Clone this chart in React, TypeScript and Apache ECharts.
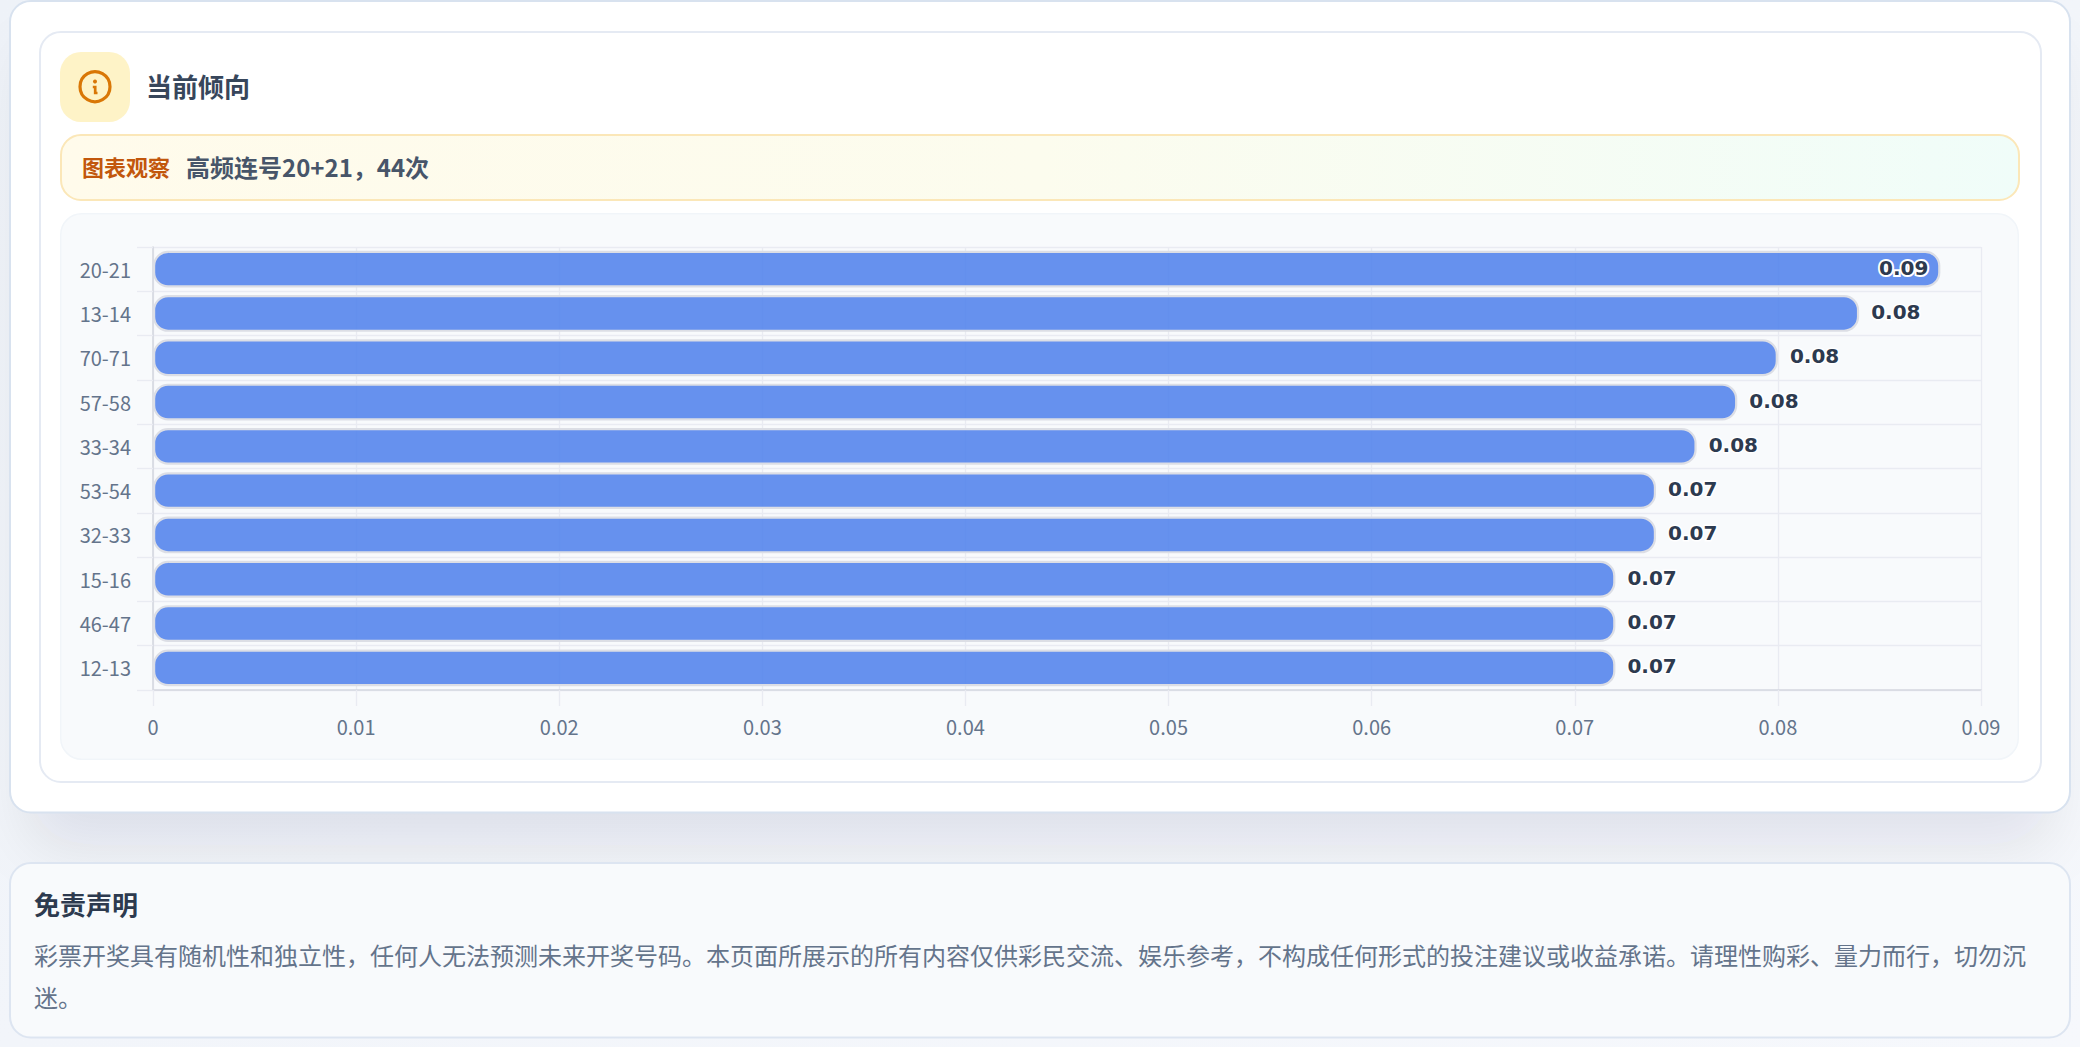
import React, { useEffect, useRef } from "react";
import * as echarts from "echarts";

const categories = ["20-21", "13-14", "70-71", "57-58", "33-34", "53-54", "32-33", "15-16", "46-47", "12-13"];
const values = [0.088, 0.084, 0.08, 0.078, 0.076, 0.074, 0.074, 0.072, 0.072, 0.072];
const heading = "当前倾向";
const noteLabel = "图表观察";
const noteText = "高频连号20+21，44次";
const disclaimerTitle = "免责声明";
const disclaimerLines = [
  "彩票开奖具有随机性和独立性，任何人无法预测未来开奖号码。本页面所展示的所有内容仅供彩民交流、娱乐参考，不构成任何形式的投注建议或收益承诺。请理性购彩、量力而行，切勿沉",
  "迷。",
];

const CJK = '"Noto Sans CJK SC", "Noto Sans", sans-serif';

function box(x: number, y: number, w: number, h: number, r: number, fill: any, stroke: string, lw: number, extra: any = {}) {
  return {
    type: "rect",
    z: -5,
    shape: { x: x + lw / 2, y: y + lw / 2, width: w - lw, height: h - lw, r },
    style: { fill, stroke, lineWidth: lw, ...extra },
  };
}

function label(x: number, y: number, text: string, size: number, color: string, weight: string | number) {
  return {
    type: "text",
    z: -4,
    x,
    y,
    style: { text, fill: color, font: `${weight} ${size}px ${CJK}`, textAlign: "left", textVerticalAlign: "middle" },
  };
}

export default function App() {
  const ref = useRef<HTMLDivElement>(null);
  useEffect(() => {
    document.body.style.margin = "0";
    const chart = echarts.init(ref.current!, undefined, { renderer: "svg" });
    chart.setOption({
      animation: false,
      backgroundColor: "transparent",
      graphic: [
        {
          type: "rect",
          z: -6,
          shape: { x: 0, y: 0, width: 2080, height: 1047 },
          style: {
            fill: new echarts.graphic.LinearGradient(0, 0, 1, 1, [
              { offset: 0, color: "#eef2f8" },
              { offset: 1, color: "#f6f8fc" },
            ]),
          },
        },
        box(30, 20, 2020, 793, 21, "#ffffff", "#ffffff", 0, {
          shadowBlur: 60,
          shadowOffsetY: 32,
          shadowColor: "rgba(15,23,42,0.09)",
        }),
        box(9, 0, 2062, 813.5, 21, "#ffffff", "#d8e2ef", 2),
        box(39, 31, 2003, 752, 21, "#ffffff", "#e5eaf3", 2),
        box(60, 52, 70, 70, 21, "#fef3c7", "#fef3c7", 0),
        {
          type: "circle",
          z: -4,
          shape: { cx: 95, cy: 86.7, r: 15 },
          style: { fill: "none", stroke: "#d97706", lineWidth: 3.2 },
        },
        { type: "circle", z: -4, shape: { cx: 95, cy: 81.5, r: 2 }, style: { fill: "#d97706" } },
        {
          type: "polyline",
          z: -4,
          shape: { points: [[92.8, 87], [95.2, 87], [95.2, 93], [97.5, 93]] },
          style: { fill: "none", stroke: "#d97706", lineWidth: 2.7 },
        },
        label(146, 85, heading, 26, "#37465b", "bold"),
        box(60, 134, 1960, 67, 20, new echarts.graphic.LinearGradient(0, 0, 1, 0, [
          { offset: 0, color: "#fffbeb" },
          { offset: 0.5, color: "#fcfcee" },
          { offset: 1, color: "#f0fdf9" },
        ]), "#fbe7b8", 2),
        label(82, 166, noteLabel, 22, "#c2570c", "bold"),
        label(186, 166, noteText, 24, "#475569", "bold"),
        box(60, 213, 1959, 547, 21, "#f8fafc", "#f1f5f9", 1.5),
        box(9, 862, 2062, 176.5, 21, "#f8fafc", "#dde5f1", 2),
        label(34, 903.5, disclaimerTitle, 26, "#2d3a4f", "bold"),
        label(34, 954.7, disclaimerLines[0], 24, "#64748b", "normal"),
        label(34, 996, disclaimerLines[1], 24, "#64748b", "normal"),
      ],
      grid: { left: 153, top: 247, width: 1828, height: 443, containLabel: false },
      xAxis: {
        type: "value",
        min: 0,
        max: 0.09,
        interval: 0.01,
        axisLine: { show: true, onZero: false, lineStyle: { color: "#d5d8e0", width: 1.6 } },
        axisTick: { show: true, length: 16, lineStyle: { color: "#e9ebf2", width: 1.33 } },
        axisLabel: { color: "#64748b", fontSize: 20, fontFamily: CJK, margin: 26 },
        splitLine: { show: true, lineStyle: { color: "#e9ebf2", width: 1.33 } },
      },
      yAxis: {
        type: "category",
        inverse: true,
        data: categories,
        axisLine: { show: true, lineStyle: { color: "#d5d8e0", width: 1.6 } },
        axisTick: { show: true, length: 16, lineStyle: { color: "#e9ebf2", width: 1.33 } },
        axisLabel: { color: "#64748b", fontSize: 20, fontFamily: CJK, margin: 22, padding: [0, 0, 5, 0] },
        splitLine: { show: true, lineStyle: { color: "#e9ebf2", width: 1.33 } },
      },
      series: [
        {
          type: "bar",
          barWidth: "83%",
          data: values.map((value, i) =>
            i === 0
              ? { value, label: { position: "insideRight", distance: 12, offset: [0, -1], textBorderWidth: 4 } }
              : { value }
          ),
          itemStyle: {
            color: "rgba(85,133,236,0.9)",
            borderColor: "#dcdee5",
            borderWidth: 2.2,
            borderRadius: 14,
          },
          label: {
            show: true,
            position: "right",
            distance: 12,
            formatter: (p: any) => Number(p.value).toFixed(2),
            color: "#2d3a4f",
            fontFamily: '"DejaVu Sans"',
            fontWeight: "bold",
            fontSize: 20,
            textBorderColor: "#ffffff",
            textBorderWidth: 3,
            offset: [0, -1.5],
          },
        },
      ],
    });
    return () => chart.dispose();
  }, []);
  return <div ref={ref} style={{ position: "absolute", left: 0, top: 0, width: 2080, height: 1047 }} />;
}
